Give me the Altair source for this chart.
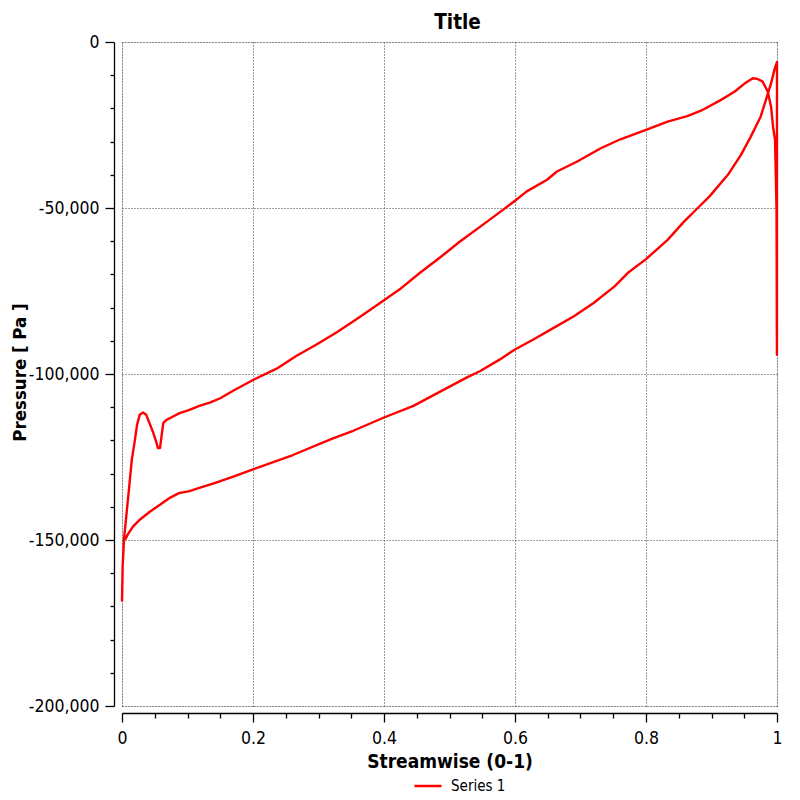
import altair as alt
import pandas as pd

# Path order: upper branch left->right, trailing-edge jump, lower branch right->left
x_upper = [0.0, 0.001, 0.003, 0.007, 0.011, 0.015, 0.019, 0.023, 0.027, 0.032, 0.037, 0.042,
           0.047, 0.052, 0.055, 0.058, 0.061, 0.063, 0.068, 0.078, 0.088, 0.103, 0.118, 0.134,
           0.150, 0.169, 0.2, 0.236, 0.266, 0.297, 0.328, 0.363, 0.4, 0.424, 0.455, 0.485,
           0.516, 0.547, 0.578, 0.6, 0.618, 0.649, 0.664, 0.695, 0.731, 0.761, 0.8, 0.833,
           0.863, 0.884, 0.914, 0.935, 0.95, 0.963, 0.970, 0.978, 0.986, 0.991, 0.994, 0.997,
           0.998, 0.9993, 0.9997, 0.9999, 1.0]
p_upper = [-168500, -157900, -149900, -141900, -133900, -125800, -120800, -115300, -112300,
           -111600, -112300, -114800, -117300, -120300, -122300, -122300, -117800, -114800,
           -113800, -112800, -111800, -110800, -109600, -108600, -107300, -105100, -101800,
           -98400, -94600, -91100, -87400, -82800, -77800, -74500, -69500, -65000, -60100,
           -55600, -51100, -47800, -45000, -41500, -39000, -36000, -32000, -29300, -26500,
           -24000, -22300, -20700, -17500, -15000, -12600, -10900, -11100, -11900, -15000,
           -19600, -25600, -29500, -38500, -50500, -77600, -94200, -6000]
x_lower = [0.996, 0.991, 0.983, 0.975, 0.96, 0.945, 0.925, 0.897, 0.879, 0.858, 0.833, 0.8,
           0.772, 0.752, 0.72, 0.69, 0.659, 0.628, 0.6, 0.577, 0.547, 0.526, 0.485, 0.445, 0.4,
           0.353, 0.322, 0.261, 0.2, 0.169, 0.150, 0.134, 0.118, 0.103, 0.087, 0.073, 0.058,
           0.043, 0.027, 0.017, 0.0096, 0.0046]
p_lower = [-8400, -12400, -17500, -22500, -28500, -34000, -40000, -46500, -50000, -54100,
           -59600, -65400, -69600, -73600, -78600, -82600, -86100, -89600, -92600, -95600,
           -99100, -101100, -105400, -109600, -113100, -117100, -119400, -124400, -128700,
           -131000, -132300, -133300, -134300, -135300, -135900, -137300, -139400, -141400,
           -143900, -145900, -148100, -149900]

xs = x_upper + x_lower
ps = p_upper + p_lower
df = pd.DataFrame({"x": xs, "p": ps, "i": list(range(len(xs))), "s": ["Series 1"] * len(xs)})

x_ticks = [round(k * 0.05, 2) for k in range(21)]
y_ticks = list(range(-200000, 1, 10000))

FONT = "DejaVu Sans Condensed, DejaVu Sans"
GRID = "#3a3a3a"

x_axis = alt.Axis(
    values=x_ticks,
    labelExpr="round(datum.value*100) % 20 == 0 ? format(datum.value, '.1~f') : ''",
    labelFlush=False,
    labelFont=FONT, labelFontSize=17.5, labelColor="black",
    labelBaseline="alphabetic", labelPadding=21,
    tickSize={"condition": {"test": "round(datum.value*100) % 20 == 0", "value": 9}, "value": 5},
    tickColor="black", domainColor="black", domainWidth=1.3, tickWidth=1.3,
    grid=True, gridColor=GRID, gridDash=[1, 2], gridWidth=1,
    gridOpacity={"condition": {"test": "round(datum.value*100) % 20 == 0", "value": 1}, "value": 0},
    offset=7,
    title="Streamwise (0-1)", titleFont=FONT, titleFontSize=19, titleFontWeight="bold",
    titleColor="black", titleBaseline="alphabetic", titleY=54,
)

y_axis = alt.Axis(
    values=y_ticks,
    labelExpr="datum.value % 50000 == 0 ? replace(format(datum.value, ','), '\u2212', '-') : ''",
    labelFlush=False,
    labelFont=FONT, labelFontSize=17.5, labelColor="black", labelPadding=6,
    tickSize={"condition": {"test": "datum.value % 50000 == 0", "value": 9}, "value": 4},
    tickColor="black", domainColor="black", domainWidth=1.3, tickWidth=1.3,
    grid=True, gridColor=GRID, gridDash=[1, 2], gridWidth=1,
    gridOpacity={"condition": {"test": "datum.value % 50000 == 0", "value": 1}, "value": 0},
    offset=8,
    title="Pressure [ Pa ]", titleFont=FONT, titleFontSize=18.5, titleFontWeight="bold",
    titleColor="black", titleBaseline="alphabetic", titleX=-89, titleY=330, titleAngle=270,
)

chart = alt.Chart(df).mark_line(strokeWidth=2.4, strokeJoin="round").encode(
    x=alt.X("x:Q", scale=alt.Scale(domain=[0, 1], nice=False, zero=False), axis=x_axis),
    y=alt.Y("p:Q", scale=alt.Scale(domain=[-200000, 0], nice=False), axis=y_axis),
    order=alt.Order("i:Q"),
    color=alt.Color(
        "s:N",
        scale=alt.Scale(domain=["Series 1"], range=["#ff0000"]),
        legend=alt.Legend(
            title=None, orient="none", legendX=291, legendY=729, direction="horizontal",
            symbolType="stroke", symbolSize=729, symbolStrokeWidth=2.5, symbolStrokeColor="#ff0000",
            labelFont=FONT, labelFontSize=15, labelColor="black", labelOffset=8, padding=0,
        ),
    ),
).properties(
    width=655,
    height=664,
    padding={"left": 114, "top": 34, "right": 15, "bottom": 92},
    autosize=alt.AutoSizeParams(type="none"),
    title=alt.TitleParams(
        "Title", font=FONT, fontSize=20.5, fontWeight="bold", color="black",
        frame="group", anchor="middle", baseline="alphabetic", offset=19, dy=35, dx=8,
    ),
).configure_view(stroke=None).configure(background="white")

chart.save("out.html", embed_options={"renderer": "svg", "actions": False})
